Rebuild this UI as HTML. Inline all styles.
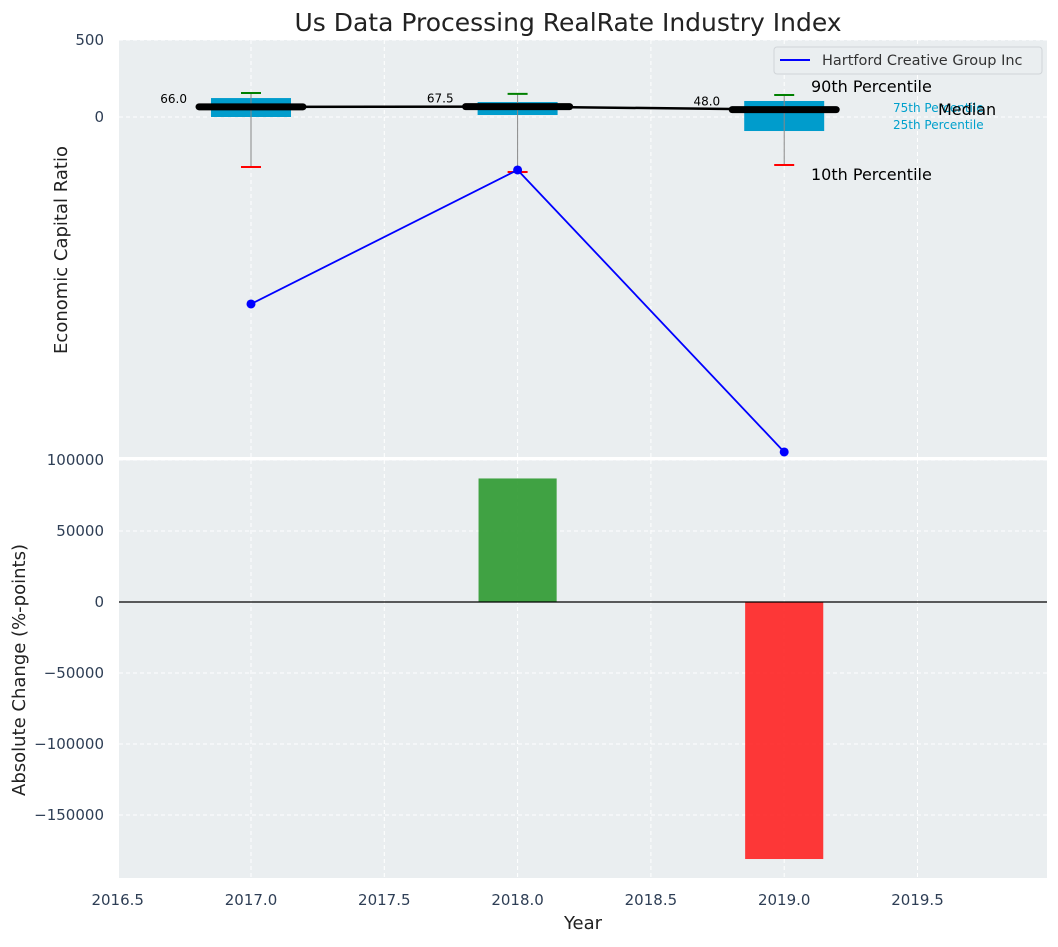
<!DOCTYPE html>
<html><head><meta charset="utf-8"><style>
body{margin:0;background:#fff;font-family:"Liberation Sans","DejaVu Sans",sans-serif}
</style></head><body>
<svg id="c" width="1058" height="942" xmlns="http://www.w3.org/2000/svg" font-family="DejaVu Sans, Liberation Sans, sans-serif"></svg>
<script>
const years=[2017,2018,2019];
const p10=[-325,-357,-312];
const p25=[0,13,-91];
const medians=[66,67.5,48];
const p75=[123,97,104];
const p90=[156,150,143];
const companyVals=[-1214,-344,-2175];
const changeVals=[0,87000,-181000];
const xTicks=[2016.5,2017,2017.5,2018,2018.5,2019,2019.5];
const topTicks=[0,500];
const botTicks=[-150000,-100000,-50000,0,50000,100000];

const svg=document.getElementById('c');const NS='http://www.w3.org/2000/svg';
function el(t,a,p){const e=document.createElementNS(NS,t);for(const k in a)e.setAttribute(k,a[k]);(p||svg).appendChild(e);return e;}
const L=119,R=1047;
const X=v=>251+(v-2017)*266.6;
const T0=40,T1=457,B0=460,B1=878;
const YT=v=>117-v*77/500;
const YB=v=>602-v*142/100000;

let g=el('rect',{x:L,y:T0,width:R-L,height:T1-T0,fill:'#eaeef0'});

g=el('rect',{x:L,y:B0,width:R-L,height:B1-B0,fill:'#eaeef0'});

el('line',{x1:L,x2:R,y1:459,y2:459,stroke:'#fff','stroke-width':2.5});
xTicks.forEach(v=>{el('line',{x1:X(v),x2:X(v),y1:T0,y2:T1,stroke:'#fff','stroke-dasharray':'4,3','stroke-width':1});
el('line',{x1:X(v),x2:X(v),y1:B0,y2:B1,stroke:'#fff','stroke-dasharray':'4,3','stroke-width':1});
const t=el('text',{x:X(v),y:905,'text-anchor':'middle','font-size':15,fill:'#2e3e55'});t.textContent=v.toFixed(1);
});
topTicks.forEach(v=>{el('line',{x1:L,x2:R,y1:YT(v),y2:YT(v),stroke:'#fff','stroke-dasharray':'4,3'});
const t=el('text',{x:104,y:YT(v)+5,'text-anchor':'end','font-size':15,fill:'#2e3e55'});t.textContent=v;
});
botTicks.forEach(v=>{el('line',{x1:L,x2:R,y1:YB(v),y2:YB(v),stroke:'#fff','stroke-dasharray':'4,3'});
const t=el('text',{x:104,y:YB(v)+5,'text-anchor':'end','font-size':15,fill:'#2e3e55'});t.textContent=v<0?'\u2212'+(-v):v;
});

const cp=el('clipPath',{id:'tc'});el('rect',{x:L,y:T0,width:R-L,height:T1-T0},cp);
const topG=el('g',{'clip-path':'url(#tc)'});
years.forEach((y,i)=>{
 const x=X(y),w=0.3*266.6;
 let b=el('rect',{x:x-w/2,y:YT(p75[i]),width:w,height:YT(p25[i])-YT(p75[i]),fill:'#009ccc'},topG);
 
 el('line',{x1:x,x2:x,y1:YT(p90[i]),y2:YT(p10[i]),stroke:'#888','stroke-width':1},topG);
 el('line',{x1:x-10,x2:x+10,y1:YT(p90[i]),y2:YT(p90[i]),stroke:'green','stroke-width':2},topG);
 el('line',{x1:x-10,x2:x+10,y1:YT(p10[i]),y2:YT(p10[i]),stroke:'red','stroke-width':2},topG);
 let m=el('line',{x1:x-52,x2:x+52,y1:YT(medians[i]),y2:YT(medians[i]),stroke:'#000','stroke-width':7,'stroke-linecap':'round'},topG);
 
 const t=el('text',{x:x-64,y:YT(medians[i])-4,'text-anchor':'end','font-size':12,fill:'#000'},topG);t.textContent=medians[i].toFixed(1);
 
});
let ml=el('polyline',{points:years.map((y,i)=>X(y)+','+YT(medians[i])).join(' '),fill:'none',stroke:'#000','stroke-width':2.5},topG);

let cl=el('polyline',{points:years.map((y,i)=>X(y)+','+YT(companyVals[i])).join(' '),fill:'none',stroke:'#0000ff','stroke-width':1.8},topG);

years.forEach((y,i)=>{const c=el('circle',{cx:X(y),cy:YT(companyVals[i]),r:4.5,fill:'#0000ff'},topG);
});

[['90th Percentile',811,92,16,'#000'],['10th Percentile',811,180,16,'#000'],['75th Percentile',893,112,12,'#00a0cc'],['25th Percentile',893,129,12,'#00a0cc'],['Median',938,115,16,'#000']].forEach(a=>{
 const t=el('text',{x:a[1],y:a[2],'font-size':a[3],fill:a[4]});t.textContent=a[0];
 });

g=el('g',{});
el('rect',{x:774,y:47,width:268,height:27,rx:3,fill:'#eaeef0',stroke:'#d0d4d8'},g);
el('line',{x1:780,x2:810,y1:60,y2:60,stroke:'#0000ff','stroke-width':2},g);
let lt=el('text',{x:822,y:65,'font-size':14.5,fill:'#333'},g);lt.textContent='Hartford Creative Group Inc';

years.forEach((y,i)=>{const v=changeVals[i];if(!v)return;const w=0.293*266.6;
 const r=el('rect',{x:X(y)-w/2,y:Math.min(YB(v),YB(0)),width:w,height:Math.abs(YB(v)-YB(0)),fill:v>0?'#2e9930':'#ff2222','fill-opacity':0.9});
 });
el('line',{x1:L,x2:R,y1:YB(0),y2:YB(0),stroke:'#000','stroke-width':1.2});

let t=el('text',{x:568,y:31,'text-anchor':'middle','font-size':25,fill:'#222'});t.textContent='Us Data Processing RealRate Industry Index';

t=el('text',{x:583,y:929,'text-anchor':'middle','font-size':18,fill:'#222'});t.textContent='Year';

t=el('text',{x:0,y:0,'text-anchor':'middle','font-size':18,fill:'#222',transform:'translate(67,250) rotate(-90)'});t.textContent='Economic Capital Ratio';

t=el('text',{x:0,y:0,'text-anchor':'middle','font-size':18,fill:'#222',transform:'translate(25,670) rotate(-90)'});t.textContent='Absolute Change (%-points)';

</script></body></html>
